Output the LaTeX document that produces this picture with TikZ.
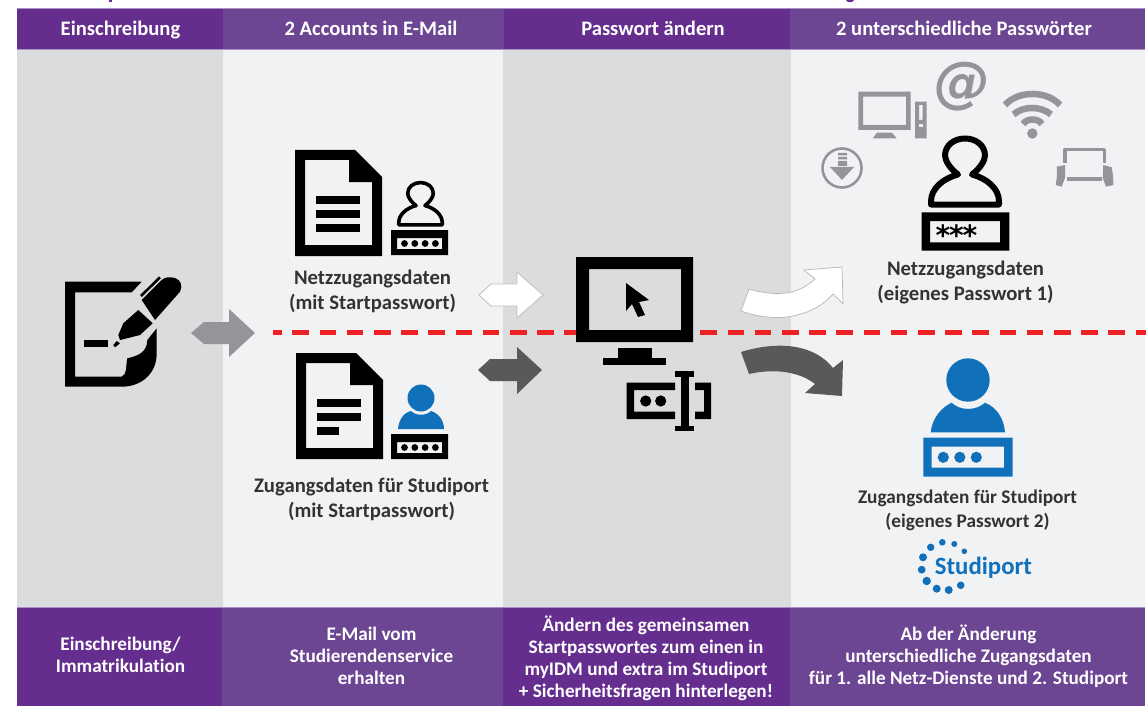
\documentclass[tikz,border=0pt]{standalone}
\usepackage{fontspec}
\setmainfont[Ligatures={NoCommon}]{Carlito}
\newfontfamily\djv{DejaVu Sans}
\usetikzlibrary{calc}
\definecolor{purA}{HTML}{652D8E}
\definecolor{purB}{HTML}{6C4593}
\definecolor{purL}{HTML}{A98FC4}
\definecolor{panA}{HTML}{DBDCDE}
\definecolor{panB}{HTML}{F1F2F4}
\definecolor{blueI}{HTML}{1170BA}
\definecolor{grayI}{HTML}{939598}
\definecolor{darkA}{HTML}{58595B}
\definecolor{redD}{HTML}{EE2024}
\definecolor{txt}{HTML}{333333}
\tikzset{
 x=1pt,y=-1pt,
 head/.style={text=white,font=\fontsize{20.6}{24}\selectfont\bfseries,align=center,anchor=base},
 foot/.style={text=white,font=\fontsize{19.2}{22}\selectfont\bfseries,align=center,anchor=center},
 lab/.style={text=txt,font=\fontsize{20.7}{25}\selectfont\bfseries,align=center,anchor=center},
 labs/.style={text=txt,font=\fontsize{19.3}{23.5}\selectfont\bfseries,align=center,anchor=center},
 wifi/.style={grayI,line width=6.5pt}
}
\newcommand{\docicon}[3]{%
 \begin{scope}[shift={(#1,#2)}]
 \fill[black,even odd rule] (0,0)--(60,0)--(87,27)--(87,106)--(0,106)--cycle
   (10,10)--(54,10)--(54,32)--(77,32)--(77,95)--(10,95)--cycle;
 \fill (21,46) rectangle (65,54);
 \fill (21,60) rectangle (65,68);
 \fill (21,74) rectangle (#3,82);
 \end{scope}}
\newcommand{\pwbox}[3]{%
 \begin{scope}[shift={(#1,#2)}]
 \fill[#3,even odd rule] (0,0) rectangle (57,25) (6,8) rectangle (51,19);
 \foreach \i in {0,1,2,3} \fill[#3] (13.5+10.3*\i,13.5) circle (3.4);
 \end{scope}}
\newcommand{\stampicon}[4]{% x,y bottom centre, scale, line width
 \begin{scope}[shift={(#1,#2)},scale=#3]
 \draw[line width=#4,line join=round] (-34,0) -- (-34,-3) .. controls (-34,-16) and (-22,-26) .. (-7,-30)
  .. controls (-15,-36) and (-20,-44) .. (-20,-49) .. controls (-20,-59) and (-11,-66) .. (0,-66)
  .. controls (11,-66) and (20,-59) .. (20,-49) .. controls (20,-44) and (15,-36) .. (7,-30)
  .. controls (22,-26) and (34,-16) .. (34,-3) -- (34,0) -- cycle;
 \end{scope}}
\begin{document}
\begin{tikzpicture}
\useasboundingbox (0,0) rectangle (1146,706);
\fill[white] (0,0) rectangle (1146,706);
% remnants of the cropped line above the band
\fill[purA] (109,0) rectangle (112,2);
\fill[purA] (846,0) .. controls (847,3) and (853,3) .. (854,0) -- cycle;
% panels
\fill[panA] (17,49) rectangle (223,607);
\fill[panB] (223,49) rectangle (503,607);
\fill[panA] (503,49) rectangle (791,607);
\fill[panB] (791,49) rectangle (1145,607);
% header
\fill[purL] (17,8) rectangle (1145,50);
\fill[purA] (17,9) rectangle (223,49);
\fill[purB] (223,9) rectangle (504,49);
\fill[purA] (504,9) rectangle (790,49);
\fill[purB] (790,9) rectangle (1145,49);
% footer
\fill[purL] (17,606.5) rectangle (1145,608);
\fill[purA] (17,608) rectangle (222,706);
\fill[purB] (222,608) rectangle (503,706);
\fill[purA] (503,608) rectangle (790,706);
\fill[purB] (790,608) rectangle (1145,706);
\node[head] (h1) at (120.5,35.5) {Einschreibung};
\node[head] (h2) at (371,35.5) {2 Accounts in E-Mail};
\node[head] (h3) at (653,35.5) {Passwort ändern};
\node[head] (h4) at (964,35.5) {2 unterschiedliche Passwörter};
\node[foot] (f1) at (120.5,655) {Einschreibung/\\Immatrikulation};
\node[foot] (f2) at (371.5,656) {E-Mail vom\\Studierendenservice\\erhalten};
\node[foot] (f3) at (646,658) {Ändern des gemeinsamen\\Startpasswortes zum einen in\\myIDM und extra im Studiport\\+ Sicherheitsfragen hinterlegen!};
\node[foot] (f4) at (968.5,656) {Ab der Änderung\\unterschiedliche Zugangsdaten\\für 1. alle Netz-Dienste und 2. Studiport};
% red dashed line
\draw[redD,line width=5.4pt,dash pattern=on 16.7pt off 10.5pt,dash phase=7.9pt] (273,332.7) -- (1146,332.7);
% left icon: signed sheet
\begin{scope}[shift={(65,282)}]
 \fill (0,-0.3) -- (76.7,-0.3) -- (66.7,10.3) -- (10,10.3) -- (10,94.7) -- (56.7,94.7)
   .. controls (62,93) and (61,82) .. (62.3,76.3) .. controls (72,74) and (82,71) .. (82.3,58) -- (91.7,46.3) -- (91.7,71.3)
   .. controls (91.7,92) and (76,104.7) .. (56.7,104.7) -- (0,104.7) -- cycle;
 \fill (19.3,58) rectangle (42.7,65.3);
 \fill (48.3,63) -- (51.7,59) -- (55,61.3) -- (50,65.3) -- cycle;
 \fill (53.3,53) -- (58.3,41.3) -- (73.3,28) -- (87.7,41.3) -- (75,53) -- (55,58) -- cycle;
 \fill (76.7,18) -- (96.7,-2) .. controls (100,-5) and (105,-5.5) .. (110,-4) .. controls (116,-2) and (118,4) .. (115,9.7) -- (90,38) -- cycle;
 \draw[line width=2.6pt] (76,14)--(95,-4.7);
\end{scope}
% arrows
\path[fill=grayI] (191,333)--(204,322)--(229,322)--(229,309)--(255,333)--(229,357)--(229,344)--(204,344)--cycle;
\draw[fill=white,draw=grayI!60!white,line width=0.8pt] (479,295)--(491,284)--(517,284)--(517,272)--(543,295)--(517,318)--(517,306)--(491,306)--cycle;
\path[fill=darkA] (478,370)--(490,359)--(517,359)--(517,347)--(542,370)--(517,394)--(517,381)--(490,381)--cycle;
\draw[fill=white,draw=grayI!70!white,line width=0.7pt] (741,311) -- (749,289) .. controls (780,298) and (800,293) .. (815,279) -- (804,270) -- (842,267) -- (843,304) -- (833,294)
  .. controls (815,315) and (780,325) .. (741,311) -- cycle;
\fill[darkA] (741,352) .. controls (780,340) and (815,345) .. (833,368) -- (843,360) -- (842,396) -- (805,393) -- (815,384)
  .. controls (800,372) and (775,368) .. (749,374) -- cycle;
% documents
\docicon{295}{150}{65}
\docicon{296}{353}{43}
% small stamps
\stampicon{420.5}{224.8}{0.64}{3.6pt}
\pwbox{391}{230}{black}
\fill[blueI] (421,398) circle (13.5);
\fill[blueI] (398,429) .. controls (399,420) and (403,413) .. (411,411) .. controls (416,416) and (426,416) .. (431,411) .. controls (438,413) and (444,420) .. (444,429) -- cycle;
\pwbox{391}{434}{black}
% monitor
\fill[even odd rule] (576,257) rectangle (693,342) (589,269) rectangle (681,330);
\fill (618,348) rectangle (652,358);
\fill (603,358) rectangle (666,365);
\fill (626,283) -- (649,300) -- (639,302) -- (645,315) -- (638,317) -- (632,304) -- (626,311) -- cycle;
% text cursor box
\fill (626.7,382.7) -- (675,382.7) -- (675,390) -- (634,390) -- (634,411.7) -- (675,411.7) -- (675,419) -- (626.7,419) -- cycle;
\fill (695,382.7) -- (711,382.7) -- (711,419) -- (695,419) -- (695,411.7) -- (704,411.7) -- (704,390) -- (695,390) -- cycle;
\fill (645.7,401) circle (5.6);
\fill (660.7,401) circle (5.6);
\fill (675,371) rectangle (694,376.5);
\fill (675,425.5) rectangle (694,431);
\fill (680.7,373) rectangle (689,428);
% right top icons grey
\fill[grayI,even odd rule] (858.3,91.7) rectangle (910.7,130) (863,96.7) rectangle (906,125);
\fill[grayI] (872.7,138.3) -- (877,132.7) -- (892,132.7) -- (896.7,138.3) -- cycle;
\fill[grayI,even odd rule] (915,101.7) rectangle (926.7,138.3) (919,105) rectangle (922.7,120);
\fill[panB] (919,124) rectangle (922.7,127);
\node[text=grayI,font=\djv\fontsize{56}{56}\selectfont\bfseries\itshape,inner sep=0] (at) at (962.5,86.5) {@};
\draw[wifi] (1005,105) .. controls (1018,90.3) and (1047,90.3) .. (1060,105);
\draw[wifi] (1013.5,114.5) .. controls (1023,105.8) and (1041,105.8) .. (1051,114.5);
\draw[wifi] (1023,124) .. controls (1027,118) and (1038,118) .. (1042,124);
\fill[grayI] (1032.3,133.5) circle (5.2);
\draw[grayI,line width=2.6pt] (842,168) circle (19.5);
\fill[grayI] (838,153)rectangle(847,155.5) (838,157)rectangle(847,159.5) (838,161)rectangle(847,166);
\fill[grayI] (830,167)--(854,167)--(842,180)--cycle;
\draw[grayI,line width=3.2pt,line join=round] (1065,163.5) -- (1065,149.5) -- (1104.5,149.5) -- (1104.5,163.5);
\fill[grayI] (1066.7,176.7) rectangle (1101.7,181);
\fill[grayI] (1056.7,166.7)--(1065,165)--(1065,178)--(1061.7,186.7)--(1055.7,185)--(1057,176)--cycle;
\fill[grayI] (1103.3,165)--(1111.7,167.3)--(1113,176)--(1113.5,185)--(1106,186.7)--(1102.7,178)--cycle;
% big black stamp
\stampicon{965}{204.5}{1}{6pt}
\fill[even odd rule] (921.7,212.3) rectangle (1009.3,250.7) (930,221) rectangle (1000,242.3);
\foreach \sx in {943,956.5,970}
  \node[font=\djv\fontsize{28}{28}\selectfont\bfseries,inner sep=0,anchor=base] at (\sx,245.5) {*};
% big blue person
\fill[blueI] (968,380) circle (21.7);
\fill[blueI] (930.7,432.3) .. controls (932,418) and (942,407) .. (951.7,402.7) .. controls (960,411) and (976,411) .. (985,402.7) .. controls (996,407) and (1004,418) .. (1005,432.3) -- cycle;
\fill[blueI,even odd rule] (923.3,437.7) rectangle (1012.7,476.7) (931.7,446.7) rectangle (1004,467.7);
\foreach \i in {0,1,2} \fill[blueI] (943.3+16.5*\i,457.3) circle (5.6);
% labels
\node[lab] (l1) at (372.5,291.5) {Netzzugangsdaten\\(mit Startpasswort)};
\node[lab] (l2) at (371.5,499.5) {Zugangsdaten für Studiport\\(mit Startpasswort)};
\node[lab] (l3) at (965.5,282.5) {Netzzugangsdaten\\(eigenes Passwort 1)};
\node[labs] (l4) at (967.5,510.5) {Zugangsdaten für Studiport\\(eigenes Passwort 2)};
% studiport logo
\foreach \px/\py/\r in {942.3/542.3/3.3,954.3/544/3,964.3/551.3/2.8,930.7/547.3/3.7,923/557.3/4,921.7/569.7/3.9,926.7/581/4.2,936.7/588.7/4,948.7/590/4,960.7/585.3/3.8}
  \fill[blueI] (\px,\py) circle (\r);
\node[text=blueI,font=\fontsize{24.8}{24.8}\selectfont\bfseries,inner sep=0] (sp) at (983.4,567.5) {Studiport};
\end{tikzpicture}
\end{document}
